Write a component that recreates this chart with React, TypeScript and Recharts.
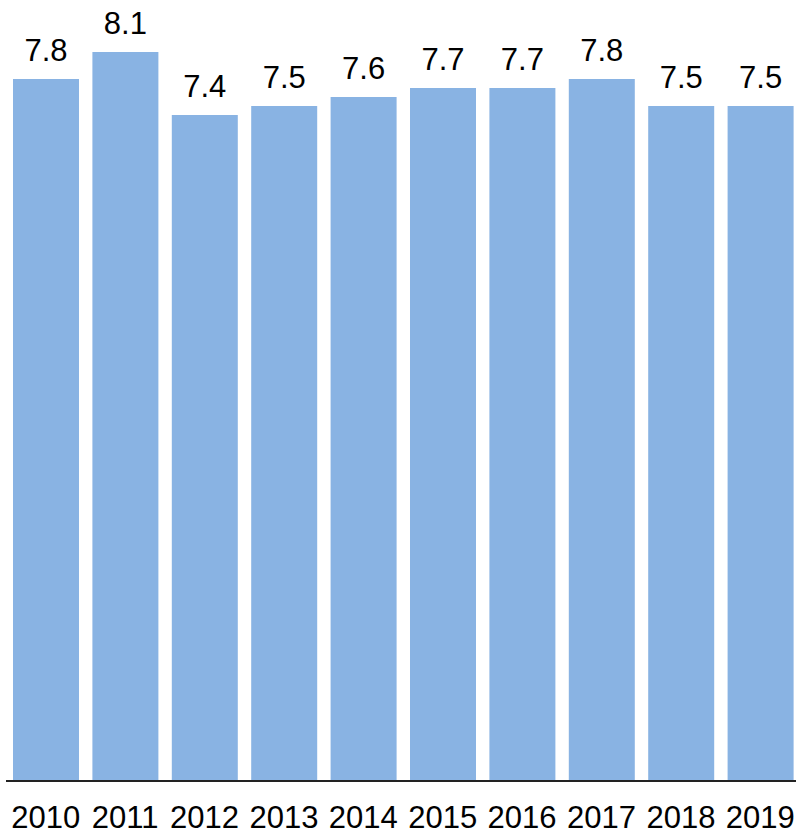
import { BarChart, Bar, XAxis, YAxis, LabelList } from "recharts";

const years = ["2010", "2011", "2012", "2013", "2014", "2015", "2016", "2017", "2018", "2019"];
const values = [7.8, 8.1, 7.4, 7.5, 7.6, 7.7, 7.7, 7.8, 7.5, 7.5];

const data = years.map((year, i) => ({ year, value: values[i] }));

const FONT = "'Liberation Sans', Arial, sans-serif";

export default function App() {
  return (
    <div
      style={{
        position: "absolute",
        left: 0,
        top: 0,
        width: 796,
        height: 832,
        overflow: "hidden",
        background: "#fff",
        fontFamily: FONT,
      }}
    >
      <BarChart
        width={800}
        height={832}
        data={data}
        margin={{ top: 52, right: 0, bottom: 21, left: 6 }}
      >
        <YAxis hide domain={[0, 8.1]} />
        <XAxis
          dataKey="year"
          height={30}
          axisLine={{ stroke: "#222", strokeWidth: 2 }}
          tickLine={false}
          tickSize={0}
          tickMargin={25}
          interval={0}
          tick={{ fill: "#000", fontSize: 31, fontFamily: FONT }}
        />
        <Bar dataKey="value" fill="#89b3e3" barSize={66} isAnimationActive={false}>
          <LabelList
            dataKey="value"
            position="top"
            offset={18}
            formatter={(v: any) => Number(v).toFixed(1)}
            style={{ fill: "#000", fontSize: 31, fontFamily: FONT }}
          />
        </Bar>
      </BarChart>
    </div>
  );
}
